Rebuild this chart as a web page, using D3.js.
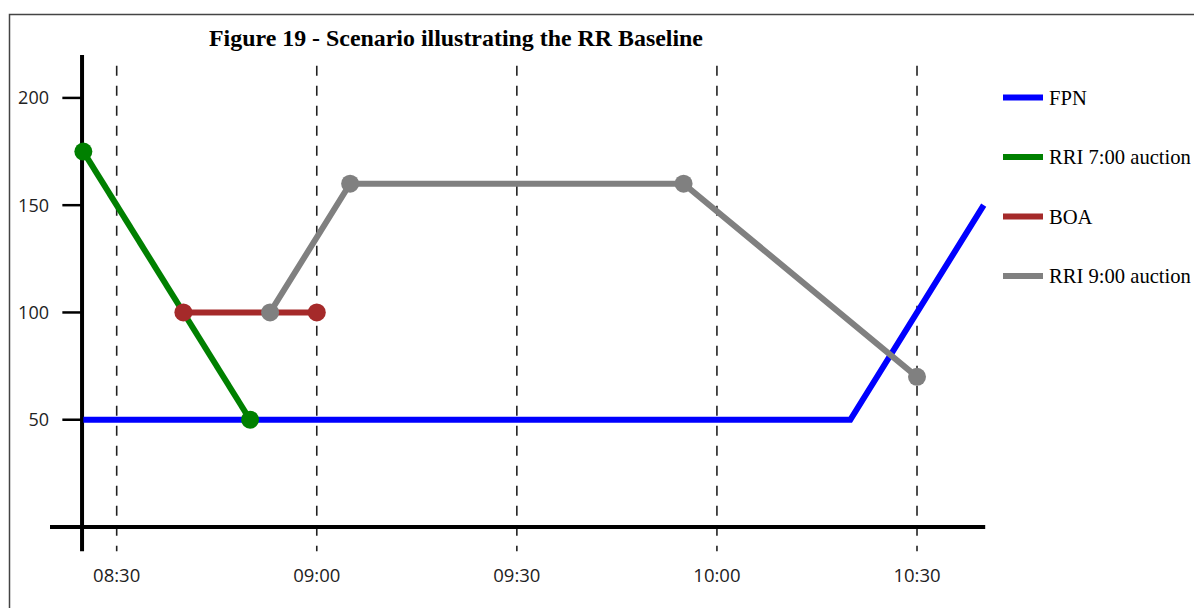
<!DOCTYPE html>
<html><head><meta charset="utf-8">
<script src="https://cdn.jsdelivr.net/npm/d3@7"></script>
<style>html,body{margin:0;padding:0;background:#fff;overflow:hidden}</style>
</head><body>
<svg id="c" width="1194" height="608"></svg>
<script>
const title = "Figure 19 - Scenario illustrating the RR Baseline";
const seriesNames = ["FPN", "RRI 7:00 auction", "BOA", "RRI 9:00 auction"];
const seriesColors = ["#0000ff", "#008000", "#a52a2a", "#808080"];
const fpnTimes = ["08:25", "10:20", "10:40"];
const fpnValues = [50, 50, 150];
const rri7Times = ["08:25", "08:50"];
const rri7Values = [175, 50];
const boaTimes = ["08:40", "09:00"];
const boaValues = [100, 100];
const rri9Times = ["08:53", "09:05", "09:55", "10:30"];
const rri9Values = [100, 160, 160, 70];
const xTickLabels = ["08:30", "09:00", "09:30", "10:00", "10:30"];
const yTickValues = [50, 100, 150, 200];

const parse = d3.timeParse("%H:%M");
const svg = d3.select("#c");

// frame
svg.append("rect").attr("x", 9.5).attr("y", 14.5).attr("width", 1300).attr("height", 700)
  .attr("fill", "none").attr("stroke", "#444").attr("stroke-width", 1.5);

const x = d3.scaleTime().domain([parse("08:20"), parse("10:40")]).range([50, 983.7]);
const y = d3.scaleLinear().domain([0, 220]).range([527, 55]);

// title
svg.append("text").attr("x", 456).attr("y", 46).attr("text-anchor", "middle")
  .attr("font-family", "Liberation Serif, Times New Roman, serif").attr("font-weight", "bold")
  .attr("font-size", 23.9).attr("fill", "#000").text(title);

// dashed verticals
svg.append("g").selectAll("line").data(xTickLabels).join("line")
  .attr("x1", d => x(parse(d))).attr("x2", d => x(parse(d)))
  .attr("y1", y(215)).attr("y2", y(-11.3))
  .attr("stroke", "#222").attr("stroke-width", 1.6).attr("stroke-dasharray", "10,10");

// x tick labels
svg.append("g").selectAll("text").data(xTickLabels).join("text")
  .attr("x", d => x(parse(d))).attr("y", 582).attr("text-anchor", "middle")
  .attr("font-family", "Open Sans, sans-serif").attr("font-size", 18.5).attr("fill", "#222")
  .text(d => d);

// axes
const y0 = parse("08:25");
svg.append("line").attr("x1", x(parse("08:20"))).attr("x2", x(parse("10:40")) + 1.5)
  .attr("y1", y(0)).attr("y2", y(0)).attr("stroke", "#000").attr("stroke-width", 4);
svg.append("line").attr("x1", x(y0) - 1.3).attr("x2", x(y0) - 1.3)
  .attr("y1", y(220)).attr("y2", y(-11.3)).attr("stroke", "#000").attr("stroke-width", 4);

// y ticks
const yt = svg.append("g").selectAll("g").data(yTickValues).join("g");
yt.append("line").attr("x1", x(y0) - 21).attr("x2", x(y0) - 1.3)
  .attr("y1", d => y(d)).attr("y2", d => y(d)).attr("stroke", "#000").attr("stroke-width", 2.5);
yt.append("text").attr("x", 49).attr("y", d => y(d) + 6.5).attr("text-anchor", "end")
  .attr("font-family", "Open Sans, sans-serif").attr("font-size", 18).attr("fill", "#222")
  .text(d => d);

// series
const series = [
  {times: fpnTimes, values: fpnValues, markers: false},
  {times: rri7Times, values: rri7Values, markers: true},
  {times: boaTimes, values: boaValues, markers: true},
  {times: rri9Times, values: rri9Values, markers: true}
];
const line = d3.line().x(d => x(d.t)).y(d => y(d.v));
series.forEach((s, i) => {
  const pts = s.times.map((t, j) => ({t: parse(t), v: s.values[j]}));
  const g = svg.append("g");
  g.append("path").attr("d", line(pts)).attr("fill", "none")
    .attr("stroke", seriesColors[i]).attr("stroke-width", 6);
  if (s.markers) {
    g.selectAll("circle").data(pts).join("circle")
      .attr("cx", d => x(d.t)).attr("cy", d => y(d.v)).attr("r", 9)
      .attr("fill", seriesColors[i]);
  }
});

// legend
const lg = svg.append("g").selectAll("g").data(seriesNames).join("g")
  .attr("transform", (d, i) => `translate(1003,${97.5 + i * 59.5})`);
lg.append("line").attr("x1", 0).attr("x2", 40).attr("y1", 0).attr("y2", 0)
  .attr("stroke", (d, i) => seriesColors[i]).attr("stroke-width", 6);
lg.append("text").attr("x", 46).attr("y", 7.3).attr("font-family", "Liberation Serif, Times New Roman, serif")
  .attr("font-size", 20.6).attr("fill", "#000").text(d => d);
</script>
</body></html>
